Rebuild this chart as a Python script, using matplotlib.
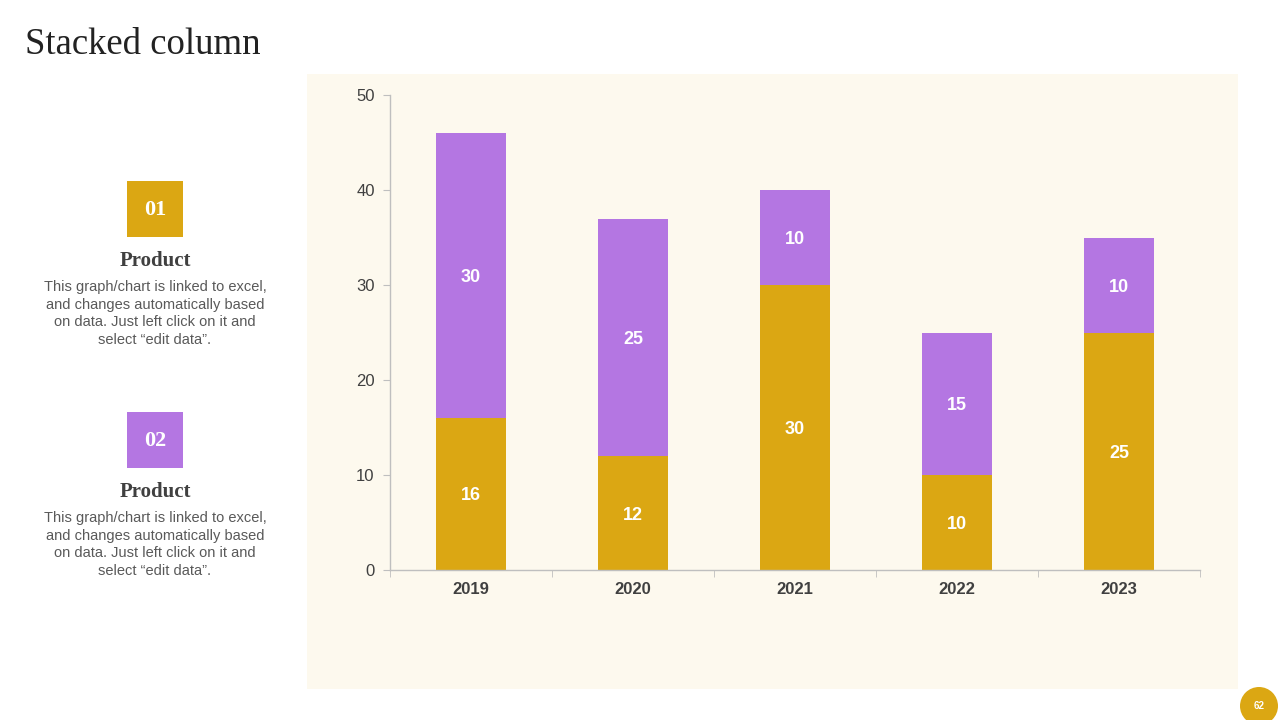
import matplotlib.pyplot as plt
from matplotlib.patches import Rectangle, Circle
import numpy as np

# dados
years = ["2019", "2020", "2021", "2022", "2023"]
product_01 = [16, 12, 30, 10, 25]
product_02 = [30, 25, 10, 15, 10]

gold = "#DBA713"
purple = "#B476E2"
panel_bg = "#FDF9EE"

fig = plt.figure(figsize=(12.8, 7.2), dpi=100)
fig.patch.set_facecolor("white")

# eixo de fundo em pixels para os elementos decorativos
bg = fig.add_axes([0, 0, 1, 1], zorder=0)
bg.set_xlim(0, 1280)
bg.set_ylim(720, 0)
bg.set_aspect("equal")
bg.axis("off")

bg.add_patch(Rectangle((307, 74), 931, 615, facecolor=panel_bg, edgecolor="none"))

ax = fig.add_axes([390 / 1280, 1 - 570 / 720, 810 / 1280, 475 / 720], zorder=1)
ax.set_facecolor("none")

x = np.arange(len(years))
w = 0.426
ax.bar(x, product_01, width=w, color=gold, zorder=2)
ax.bar(x, product_02, width=w, bottom=product_01, color=purple, zorder=2)

for i in range(len(years)):
    ax.text(x[i], product_01[i] / 2, str(product_01[i]), ha="center", va="center_baseline",
            color="white", fontsize=13, fontweight="bold", family="Liberation Sans")
    ax.text(x[i], product_01[i] + product_02[i] / 2, str(product_02[i]), ha="center",
            va="center_baseline", color="white", fontsize=13, fontweight="bold",
            family="Liberation Sans")

ax.set_xlim(-0.5, len(years) - 0.5)
ax.set_ylim(0, 50)
ax.set_yticks([0, 10, 20, 30, 40, 50])
ax.set_xticks(x)
ax.set_xticklabels(years, fontsize=12, fontweight="bold", color="#404040",
                   family="Liberation Sans")
ax.set_xticks(np.arange(-0.5, len(years), 1), minor=True)
ax.tick_params(axis="x", which="major", length=0, pad=9)
ax.tick_params(axis="x", which="minor", length=5, color="#BFBFBF", direction="out")
ax.tick_params(axis="y", length=5, color="#BFBFBF", labelsize=12, labelcolor="#404040",
               pad=6)
for lab in ax.get_yticklabels():
    lab.set_family("Liberation Sans")

for s in ["top", "right"]:
    ax.spines[s].set_visible(False)
for s in ["left", "bottom"]:
    ax.spines[s].set_color("#BFBFBF")
    ax.spines[s].set_linewidth(1)

# titulo
bg.text(25, 45, "Stacked column", fontsize=26.5, family="Liberation Serif",
        color="#222222", ha="left", va="center")

# blocos da esquerda
blocks = [("01", gold, 181), ("02", purple, 412)]
desc = "This graph/chart is linked to excel,\nand changes automatically based\non data. Just left click on it and\nselect \u201cedit data\u201d."
for num, col, top in blocks:
    bg.add_patch(Rectangle((127, top), 56, 56, facecolor=col, edgecolor="none"))
    bg.text(155, top + 29, num, ha="center", va="center",
            fontsize=16, fontweight="bold", color="white", family="Liberation Serif")
    bg.text(155, top + 80, "Product", ha="center", va="center",
            fontsize=15, fontweight="bold", color="#404040", family="Liberation Serif")
    bg.text(155, top + 99, desc, ha="center", va="top",
            fontsize=10.5, color="#595959", family="Liberation Sans", linespacing=1.32)

# numero da pagina
bg.add_patch(Circle((1259, 706), 19, facecolor=gold, edgecolor="none"))
bg.text(1259, 706, "62", ha="center", va="center", fontsize=7,
        fontweight="bold", color="white", family="Liberation Sans")

plt.savefig("out.png", dpi=100)
